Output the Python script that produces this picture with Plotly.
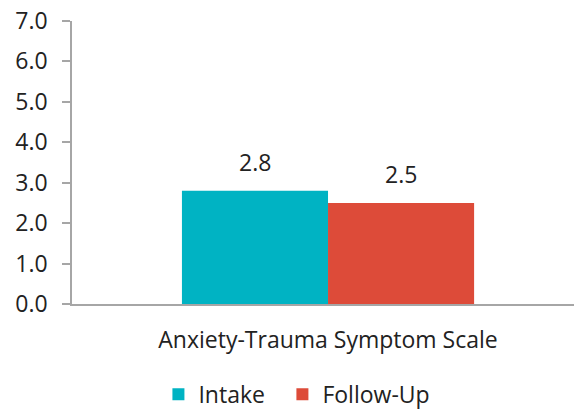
import plotly.graph_objects as go

categories = ["Anxiety-Trauma Symptom Scale"]
intake = [2.8]
follow_up = [2.5]
y_ticks = [0, 1, 2, 3, 4, 5, 6, 7]
y_tick_labels = ["0.0", "1.0", "2.0", "3.0", "4.0", "5.0", "6.0", "7.0"]

TEAL = "#00B3C3"
RED = "#DD4B39"
FONT = "Open Sans"
TEXT = "#222222"
SIZE = 23

fig = go.Figure()
fig.add_trace(go.Bar(name="Intake", x=categories, y=intake, marker_color=TEAL,
                     marker_line_width=0, legend="legend"))
fig.add_trace(go.Bar(name="Follow-Up", x=categories, y=follow_up, marker_color=RED,
                     marker_line_width=0, legend="legend2"))

# value labels above each bar of the group (bar width is 73 px either side of centre)
for vals, shift in ((intake, -73), (follow_up, 73)):
    for cat, v in zip(categories, vals):
        fig.add_annotation(x=cat, y=v, text=f"{v:.1f}", showarrow=False,
                           xshift=shift, yshift=11, yanchor="bottom",
                           font=dict(size=SIZE, family=FONT, color=TEXT))

legend_common = dict(orientation="h", xanchor="left", xref="container",
                     yref="container", y=0.036, yanchor="middle",
                     font=dict(size=SIZE, family=FONT, color=TEXT))

fig.update_layout(
    width=574, height=409,
    margin=dict(l=72, r=0, t=21, b=105, autoexpand=False),
    paper_bgcolor="white", plot_bgcolor="white",
    barmode="group", bargap=0.418, bargroupgap=0,
    font=dict(family=FONT, size=SIZE, color=TEXT),
    showlegend=True,
    legend=dict(x=0.276, **legend_common),
    legend2=dict(x=0.492, **legend_common),
    xaxis=dict(range=[-0.51, 0.49], showline=True, linecolor="#A6A6A6", linewidth=2,
               ticks="", showgrid=False, ticklabelstandoff=14, automargin=False,
               tickfont=dict(size=SIZE, family=FONT, color=TEXT)),
    yaxis=dict(range=[0, 7], tickvals=y_ticks, ticktext=y_tick_labels,
               showline=True, linecolor="#A6A6A6", linewidth=1.5,
               ticks="outside", ticklen=8, tickcolor="#A6A6A6", tickwidth=1.5,
               showgrid=False, zeroline=False, ticklabelstandoff=10, automargin=False,
               tickfont=dict(size=SIZE, family=FONT, color=TEXT)),
)

fig.write_html("out.html")
